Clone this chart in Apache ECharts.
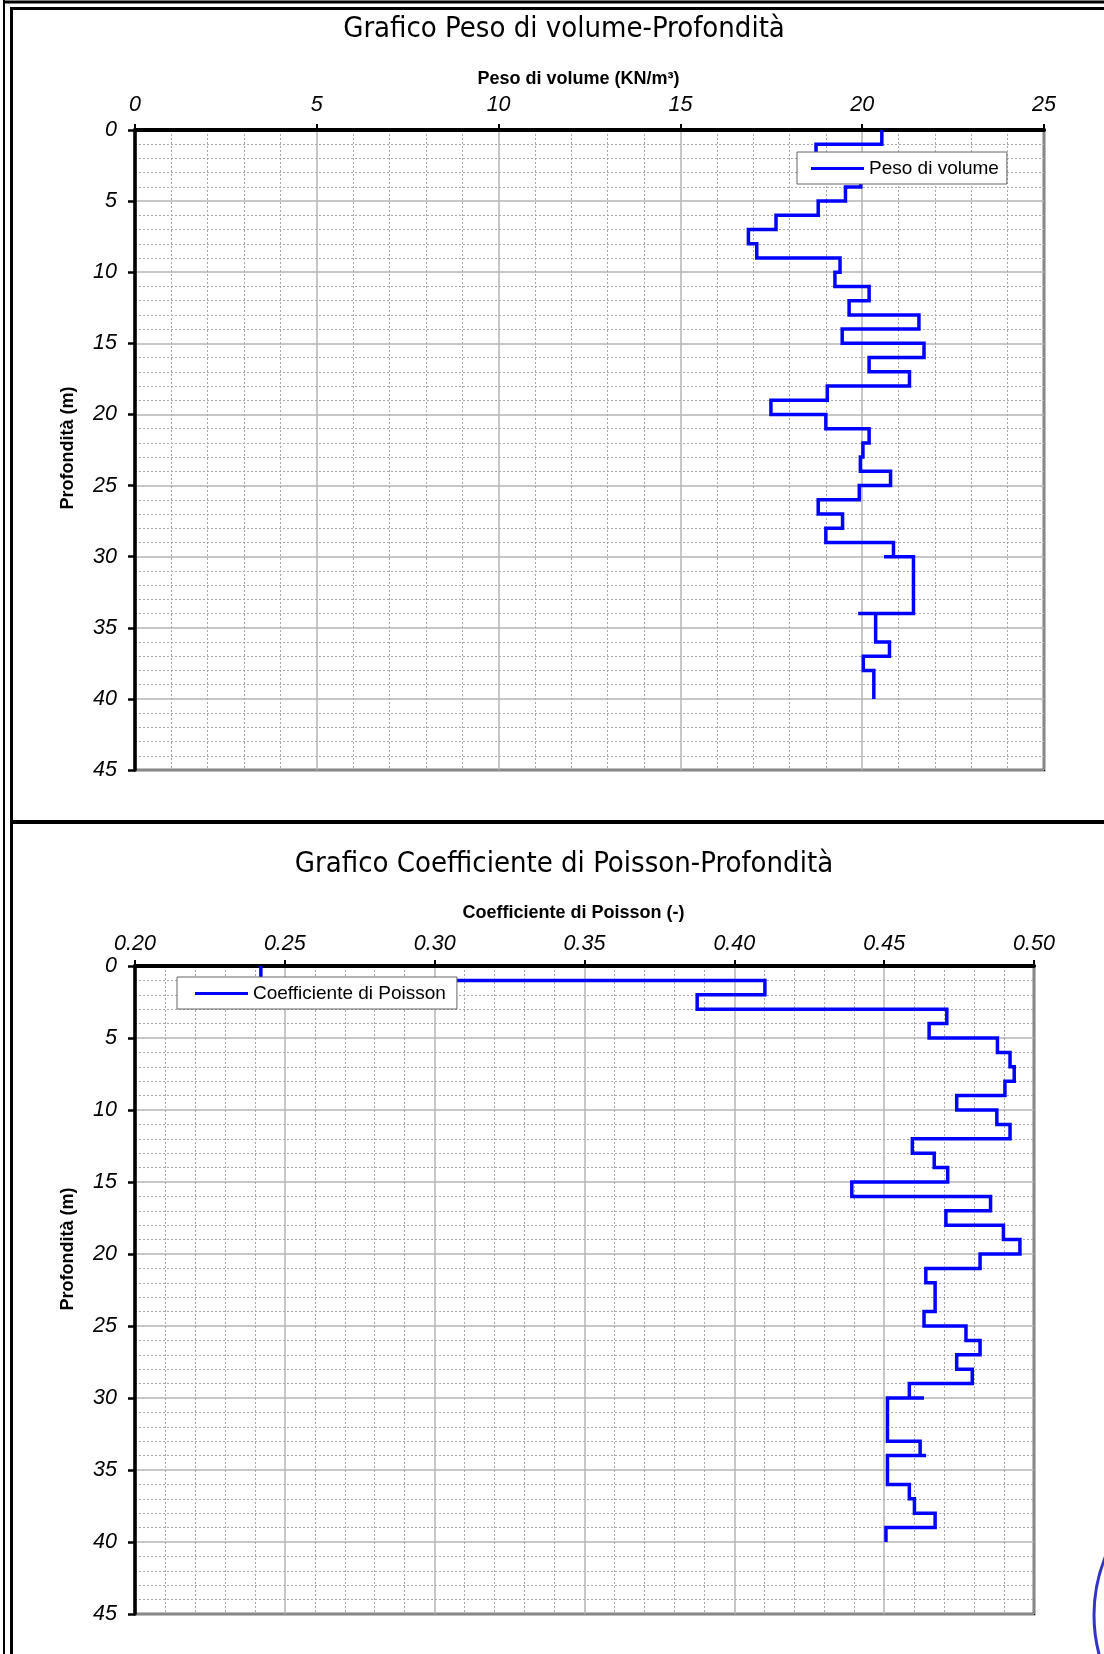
<!DOCTYPE html>
<html><head><meta charset="utf-8">
<script src="https://cdn.jsdelivr.net/npm/echarts@6/dist/echarts.min.js"></script>
<style>html,body{margin:0;padding:0;background:#fff}#c{width:1104px;height:1654px}</style>
</head><body><div id="c"></div>
<script>
// ---- Data: Peso di volume (layers: depth from, depth to, value) ----
const pesoDepthFrom = [0,1,2,3,4,5,6,7,8,9,10,11,12,13,14,15,16,17,18,19,20,21,22,23,24,25,26,27,28,29,30,30,34,34,36,37,38];
const pesoDepthTo   = [1,2,3,4,5,6,7,8,9,10,11,12,13,14,15,16,17,18,19,20,21,22,23,24,25,26,27,28,29,30,30,34,34,36,37,38,40];
const pesoValues    = [20.54,18.73,19.4,19.96,19.54,18.79,17.63,16.87,17.10,19.39,19.25,20.19,19.64,21.56,19.45,21.70,20.19,21.30,19.04,17.49,19.00,20.19,20.02,19.95,20.78,19.92,18.79,19.46,19.00,20.86,20.60,21.41,19.89,20.37,20.75,20.03,20.32];

// ---- Data: Coefficiente di Poisson ----
const poissonDepthFrom = [0,1,2,3,4,5,6,7,8,9,10,11,12,13,14,15,16,17,18,19,20,21,22,24,25,26,27,28,29,30,30,33,34,34,36,37,38,39];
const poissonDepthTo   = [1,2,3,4,5,6,7,8,9,10,11,12,13,14,15,16,17,18,19,20,21,22,24,25,26,27,28,29,30,30,33,34,34,36,37,38,39,40];
const poissonValues    = [0.242,0.4102,0.3876,0.4709,0.4650,0.4878,0.4920,0.4934,0.4903,0.4742,0.4876,0.4920,0.4594,0.4667,0.4712,0.4392,0.4855,0.4706,0.4898,0.4953,0.4820,0.4639,0.4670,0.4633,0.4773,0.4820,0.4742,0.4794,0.4584,0.4633,0.4511,0.4620,0.4640,0.4511,0.4584,0.4601,0.4670,0.4506];

// ---- Axis ticks / labels ----
const pesoTicks = [0,5,10,15,20,25];
const poissonTicks = [0.20,0.25,0.30,0.35,0.40,0.45,0.50];
const depthTicks = [0,5,10,15,20,25,30,35,40,45];

const title1 = 'Grafico Peso di volume-Profondità';
const title2 = 'Grafico Coefficiente di Poisson-Profondità';
const xName1 = 'Peso di volume (KN/m³)';
const xName2 = 'Coefficiente di Poisson (-)';
const yName = 'Profondità (m)';
const legend1 = 'Peso di volume';
const legend2 = 'Coefficiente di Poisson';

function stepPoints(from, to, vals){
  const pts = [];
  for (let i=0;i<vals.length;i++){ pts.push([vals[i], from[i]]); pts.push([vals[i], to[i]]); }
  return pts;
}

const FONT = "'Liberation Sans', Arial, sans-serif";
const TFONT = "'DejaVu Sans Condensed', 'Liberation Sans', Arial, sans-serif";

function xAxisCfg(grid, ticks, name, fmt, margin, gap){
  return {
    gridIndex: grid, type:'value', position:'top',
    min: ticks[0], max: ticks[ticks.length-1], interval: +(ticks[1]-ticks[0]).toFixed(4),
    name: name, nameLocation:'middle', nameGap: gap,
    nameTextStyle:{fontFamily:FONT, fontWeight:'bold', fontSize:18, color:'#000', padding:[0,22,0,0]},
    axisLine:{show:true, onZero:false, lineStyle:{color:'#000', width:4}},
    axisTick:{show:true, length:6, lineStyle:{color:'#000', width:2}},
    axisLabel:{show:true, margin:margin, fontFamily:FONT, fontStyle:'italic', fontSize:21.5, color:'#000', formatter: fmt},
    splitLine:{show:true, lineStyle:{color:'#b4b4b4', width:1.5}},
    minorTick:{show:false, splitNumber:5},
    minorSplitLine:{show:true, lineStyle:{color:'#a8a8a8', width:1, type:[2,2]}}
  };
}
function yAxisCfg(grid){
  return {
    gridIndex: grid, type:'value', inverse:true,
    min: depthTicks[0], max: depthTicks[depthTicks.length-1], interval: depthTicks[1]-depthTicks[0],
    axisLine:{show:true, onZero:false, lineStyle:{color:'#000', width:3.5}},
    axisTick:{show:true, length:7, lineStyle:{color:'#000', width:2.5}},
    axisLabel:{show:true, margin:18, fontFamily:FONT, fontStyle:'italic', fontSize:21.5, color:'#000'},
    splitLine:{show:true, lineStyle:{color:'#b4b4b4', width:1.5}},
    minorTick:{show:false, splitNumber:5},
    minorSplitLine:{show:true, lineStyle:{color:'#a8a8a8', width:1, type:[2,2]}}
  };
}

const chart = echarts.init(document.getElementById('c'), null, {renderer:'canvas'});
chart.setOption({
  animation:false,
  backgroundColor:'#fff',
  grid:[
    {left:135, top:130, width:909, height:640, show:true, borderColor:'#000', borderWidth:2.5, backgroundColor:'transparent', outerBoundsMode:'none', containLabel:false},
    {left:135, top:966, width:899, height:648, show:true, borderColor:'#000', borderWidth:2.5, backgroundColor:'transparent', outerBoundsMode:'none', containLabel:false}
  ],
  xAxis:[
    xAxisCfg(0, pesoTicks, xName1, v => String(v), 14, 42),
    xAxisCfg(1, poissonTicks, xName2, v => v.toFixed(2), 11, 44)
  ],
  yAxis:[ yAxisCfg(0), yAxisCfg(1) ],
  legend:[
    {data:[legend1], left:797, top:152, orient:'horizontal', padding:[7,8,6,14], itemWidth:53, itemHeight:3, icon:'rect',
     backgroundColor:'#fff', borderColor:'#666', borderWidth:1, borderRadius:0, selectedMode:false,
     itemStyle:{color:'#0000ff'}, textStyle:{fontFamily:FONT, fontSize:19, color:'#000'}},
    {data:[legend2], left:177, top:977, orient:'horizontal', padding:[7,11,6,18], itemWidth:53, itemHeight:3, icon:'rect',
     backgroundColor:'#fff', borderColor:'#666', borderWidth:1, borderRadius:0, selectedMode:false,
     itemStyle:{color:'#0000ff'}, textStyle:{fontFamily:FONT, fontSize:19, color:'#000'}}
  ],
  series:[
    {name:legend1, type:'line', xAxisIndex:0, yAxisIndex:0, data: stepPoints(pesoDepthFrom, pesoDepthTo, pesoValues),
     symbol:'none', showSymbol:false, lineStyle:{color:'#0000ff', width:3.5, join:'miter', cap:'butt'}, itemStyle:{color:'#0000ff'}},
    {name:legend2, type:'line', xAxisIndex:1, yAxisIndex:1, data: stepPoints(poissonDepthFrom, poissonDepthTo, poissonValues),
     symbol:'none', showSymbol:false, lineStyle:{color:'#0000ff', width:3.5, join:'miter', cap:'butt'}, itemStyle:{color:'#0000ff'}}
  ],
  graphic:[
    {type:'line', shape:{x1:4,y1:0,x2:4,y2:1654}, style:{stroke:'#000', lineWidth:2}},
    {type:'line', shape:{x1:11.5,y1:7,x2:11.5,y2:1654}, style:{stroke:'#000', lineWidth:3}},
    {type:'line', shape:{x1:3,y1:2,x2:1104,y2:2}, style:{stroke:'#000', lineWidth:3}},
    {type:'line', shape:{x1:10,y1:8.5,x2:1104,y2:8.5}, style:{stroke:'#000', lineWidth:3}},
    {type:'line', shape:{x1:10,y1:822,x2:1104,y2:822}, style:{stroke:'#000', lineWidth:4}},
    {type:'text', x:564, y:29, style:{text:title1, font:'29px '+TFONT, fill:'#000', align:'center', verticalAlign:'middle', textAlign:'center', textVerticalAlign:'middle'}},
    {type:'text', x:564, y:864, style:{text:title2, font:'29px '+TFONT, fill:'#000', align:'center', verticalAlign:'middle', textAlign:'center', textVerticalAlign:'middle'}},
    {type:'text', x:68, y:448, rotation:Math.PI/2, style:{text:yName, font:'bold 18px '+FONT, fill:'#000', align:'center', verticalAlign:'middle', textAlign:'center', textVerticalAlign:'middle'}},
    {type:'text', x:68, y:1249, rotation:Math.PI/2, style:{text:yName, font:'bold 18px '+FONT, fill:'#000', align:'center', verticalAlign:'middle', textAlign:'center', textVerticalAlign:'middle'}},
    {type:'circle', shape:{cx:1249, cy:1615, r:155}, style:{fill:'none', stroke:'#3434c4', lineWidth:3}}
  ]
});
</script>
</body></html>
